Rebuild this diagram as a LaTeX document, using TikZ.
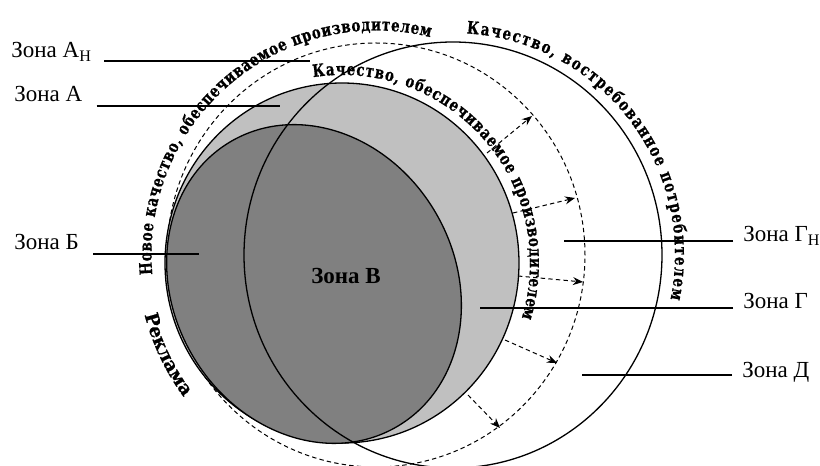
\documentclass[tikz,border=0pt]{standalone}
\usepackage{fontspec}
\setmainfont{Liberation Serif}
\newfontfamily\arcfont{DejaVu Serif}[FakeBold=0.8,FakeStretch=0.78]
\newfontfamily\adfont{DejaVu Serif}[FakeBold=0.8]
\usepackage{tikz}
\usetikzlibrary{arrows.meta,calc,decorations.text}
\definecolor{lightzone}{RGB}{192,192,192}
\definecolor{darkzone}{RGB}{128,128,128}
\newcommand{\arcstyle}{\arcfont\bfseries\fontsize{8.6}{10.5}\selectfont}
\newcommand{\adstyle}{\adfont\bfseries\fontsize{9.2}{11}\selectfont}
\tikzset{
	zone/.style={inner sep=0pt,font=\fontsize{11.5}{13}\selectfont},
	zonemain/.style={zone,font=\fontsize{11.5}{13}\selectfont\bfseries},
	lead/.style={line width=0.75pt},
	ring/.style={line width=0.65pt},
	dashring/.style={line width=0.5pt,dash pattern=on 2.2pt off 1.6pt},
	widen/.style={dashring,-{Stealth[length=5pt,width=4pt]}},
	arctext/.style={decorate,decoration={text along path,text align={fit to path},text={|\arcstyle|#1}}},
	adtext/.style={decorate,decoration={text along path,text align=center,text={|\adstyle|#1}}}
}
\begin{document}
\begin{tikzpicture}[x=0.5pt,y=0.5pt]
\useasboundingbox (0,0) rectangle (820,466);
\coordinate (Dashed) at (376,211);
\coordinate (Demand) at (453,211);
\coordinate (Light) at (342,203);
\coordinate (Dark) at (314,182);

\draw[dashring] (Dashed) ellipse [x radius=209,y radius=212];
\draw[ring,fill=lightzone] (Light) ellipse [x radius=177,y radius=180];
\draw[ring,fill=darkzone,rotate around={30:(Dark)}] (Dark) ellipse [x radius=141,y radius=165];
\draw[ring] (Demand) ellipse [x radius=209,y radius=213];

\coordinate (G1) at (487,313); \coordinate (H1) at (532,350);
\coordinate (G2) at (513,253); \coordinate (H2) at (575,268);
\coordinate (G3) at (518,190); \coordinate (H3) at (583,184);
\coordinate (G4) at (505,126); \coordinate (H4) at (557,103);
\coordinate (G5) at (468,71);  \coordinate (H5) at (500,38);
\foreach \i in {1,...,5}
   \draw[widen] (G\i) -- (H\i);

\path[arctext={Новое качество, обеспечиваемое производителем}]
   ($(Dashed)+(185:224.5)$) arc [start angle=185,end angle=76,radius=224.5];
\path[arctext={Качество, обеспечиваемое производителем}]
   ($(Light)+(98.8:188)$) arc [start angle=98.8,end angle=-17,radius=188];
\path[arctext={Качество, востребованное потребителем}]
   ($(Demand)+(86.5:222)$) arc [start angle=86.5,end angle=-11.5,radius=222];
\path[adtext={Реклама}]
   ($(Dashed)+(185:239)$) arc [start angle=185,end angle=226,radius=239];

\node[zonemain] (ZoneV) at (346,190) {Зона В};
\node[zone,anchor=base west] (ZoneAN) at (11,408) {Зона А\textsubscript{Н}};
\node[zone,anchor=base west] (ZoneA) at (14,364) {Зона А};
\node[zone,anchor=base west] (ZoneB) at (14,216) {Зона Б};
\node[zone,anchor=base west] (ZoneGN) at (743,224) {Зона Г\textsubscript{Н}};
\node[zone,anchor=base west] (ZoneG) at (743,157) {Зона Г};
\node[zone,anchor=base west] (ZoneD) at (742,88) {Зона Д};

\coordinate (LeadAN) at (310,405);
\coordinate (LeadA) at (280,360);
\coordinate (LeadB) at (199,212);
\coordinate (LeadGN) at (564,225);
\coordinate (LeadG) at (480,158);
\coordinate (LeadD) at (582,91);
\draw[lead] ([xshift=6pt]ZoneAN.east |- LeadAN) -- (LeadAN);
\draw[lead] ([xshift=7pt]ZoneA.east |- LeadA) -- (LeadA);
\draw[lead] ([xshift=7pt]ZoneB.east |- LeadB) -- (LeadB);
\draw[lead] ([xshift=-5pt]ZoneGN.west |- LeadGN) -- (LeadGN);
\draw[lead] ([xshift=-5pt]ZoneG.west |- LeadG) -- (LeadG);
\draw[lead] ([xshift=-5pt]ZoneD.west |- LeadD) -- (LeadD);
\end{tikzpicture}
\end{document}
